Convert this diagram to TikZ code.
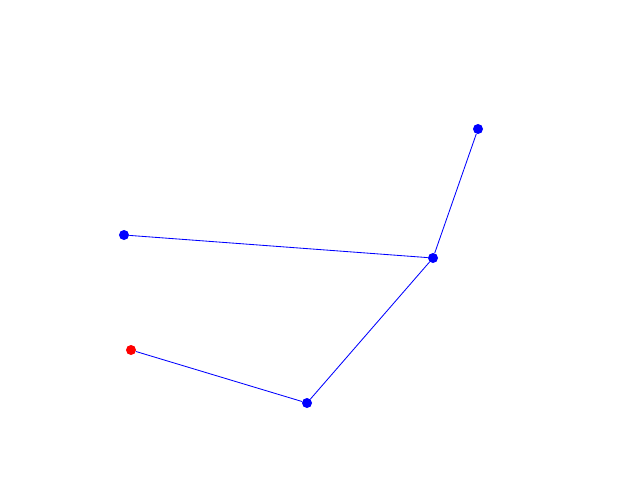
\documentclass[tikz,border=0pt]{standalone}
\usepackage{tikz}
\usetikzlibrary{positioning}

\begin{document}
\begin{tikzpicture}[
    x=0.025cm, y=-0.025cm,
    dot/.style={circle, fill=blue, inner sep=0pt, minimum size=0.25cm},
    startdot/.style={dot, fill=red},
    link/.style={blue, line width=0.6pt},
]

% ---- Frame ----
\useasboundingbox (0,0) rectangle (640,480);

% ---- Points ----
\node[dot] (top) at (478,129) {};
\node[dot] (joint) at (433,258) {};
\node[dot] (left) at (124,235) {};
\node[dot] (bottom) at (307,403) {};
\node[startdot] (start) at (131,350) {};

% ---- Links ----
\draw[link] (top) -- (joint);
\draw[link] (left) -- (joint);
\draw[link] (joint) -- (bottom);
\draw[link] (bottom) -- (start);

\end{tikzpicture}
\end{document}
